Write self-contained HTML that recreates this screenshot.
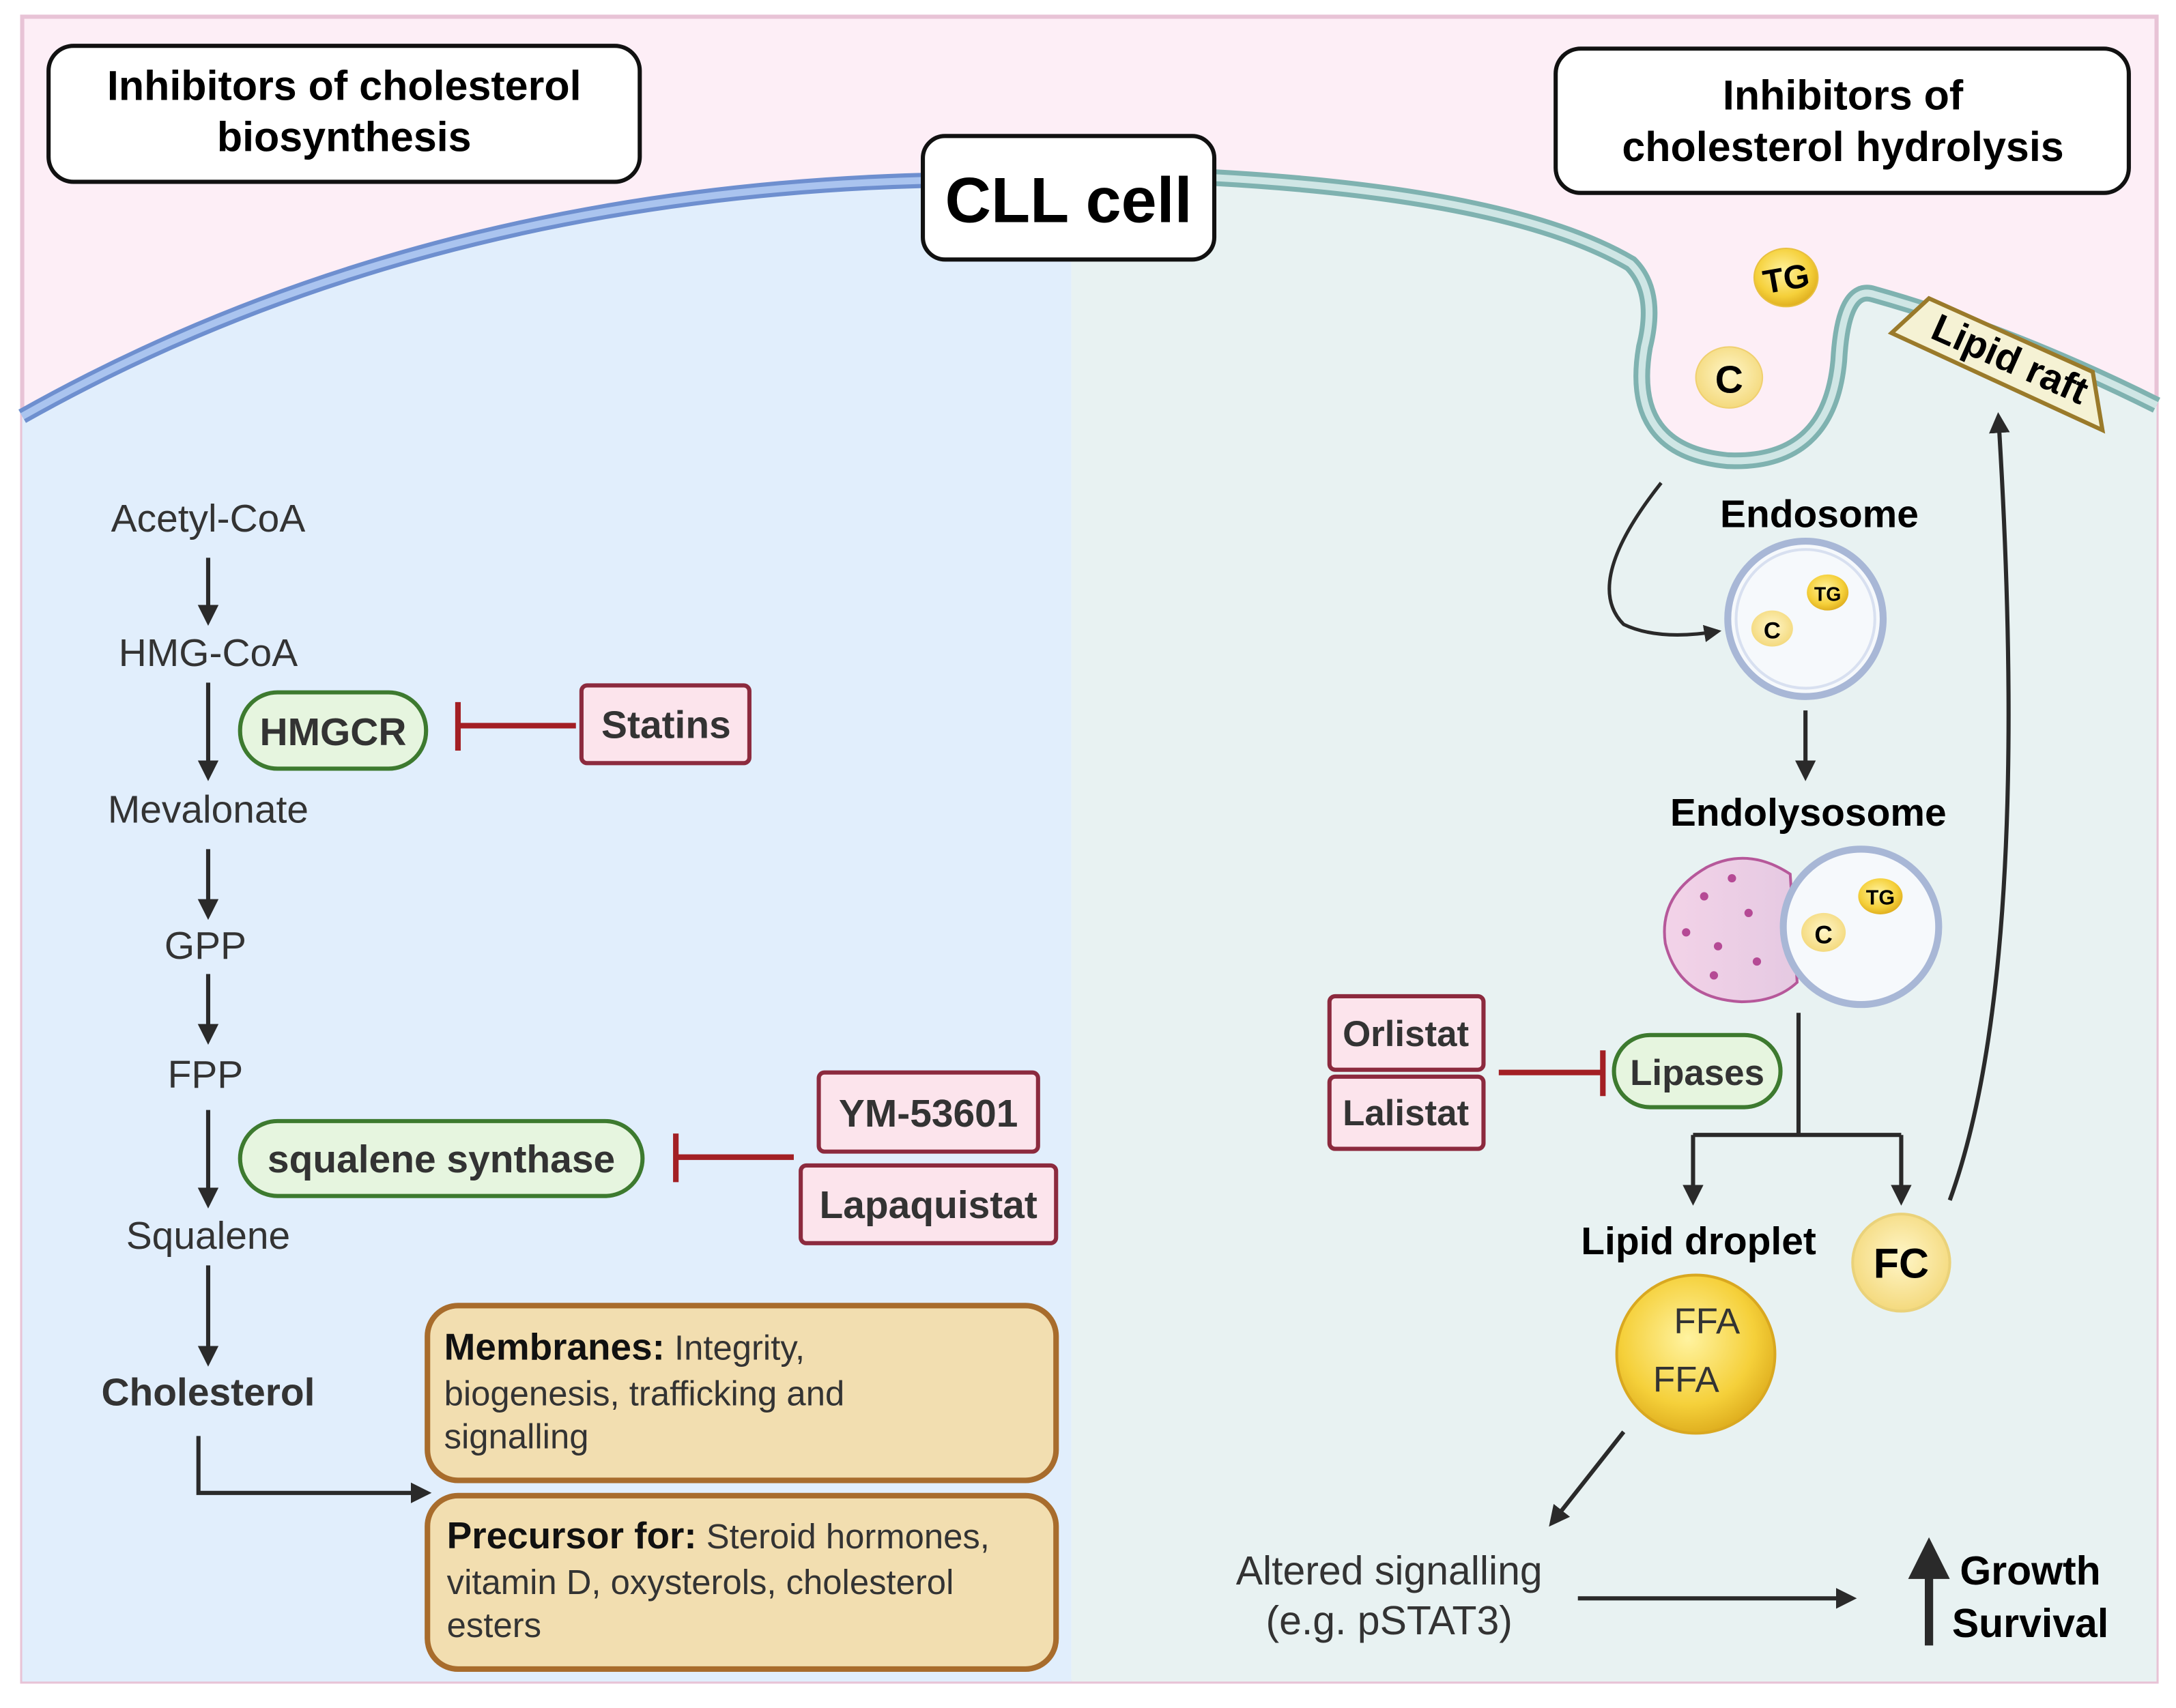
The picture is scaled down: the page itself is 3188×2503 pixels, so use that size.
<!DOCTYPE html>
<html><head><meta charset="utf-8"><style>html,body{margin:0;padding:0;background:#fff}svg{display:block}text{font-family:"Liberation Sans",Arial,sans-serif}</style></head><body>
<svg width="3188" height="2503" viewBox="0 0 1568 1231" xmlns="http://www.w3.org/2000/svg">
<defs>
<marker id="ah" viewBox="0 0 10 10" refX="8" refY="5" markerWidth="5" markerHeight="5" orient="auto"><path d="M0,0 L10,5 L0,10 z" fill="#2a2a2a"/></marker>
<radialGradient id="yg" cx="0.45" cy="0.4" r="0.6"><stop offset="0" stop-color="#fff3a0"/><stop offset="0.7" stop-color="#f5d03a"/><stop offset="1" stop-color="#e0b020"/></radialGradient>
<radialGradient id="yl" cx="0.5" cy="0.45" r="0.6"><stop offset="0" stop-color="#fff6c8"/><stop offset="1" stop-color="#f3d777"/></radialGradient>
<linearGradient id="pk" x1="0" x2="1"><stop offset="0" stop-color="#f3d3e8"/><stop offset="1" stop-color="#e5c9e2"/></linearGradient>
</defs>
<rect x="0" y="0" width="1568" height="1231" fill="#fff"/>
<rect x="16" y="12" width="1538" height="1200" fill="#fdeef6" stroke="#e8c3d6" stroke-width="3"/>
<!-- left cell -->
<path d="M16,300 Q300,140 665,130 L772,128 L772,1212 L16,1212 Z" fill="#e1eefc"/>
<path d="M16,300 Q300,140 665,130" fill="none" stroke="#6e8fcf" stroke-width="11"/>
<path d="M16,300 Q300,140 665,130" fill="none" stroke="#aac4ef" stroke-width="5"/>
<!-- right cell -->
<path d="M772,128 L875,128 Q1090,140 1175,190 Q1195,210 1185,250 Q1172,325 1245,332 Q1318,335 1325,260 Q1328,205 1350,212 Q1450,240 1554,292 L1554,1212 L772,1212 Z" fill="#e8f2f2"/>
<path d="M875,128 Q1090,140 1175,190 Q1195,210 1185,250 Q1172,325 1245,332 Q1318,335 1325,260 Q1328,205 1350,212 Q1450,240 1554,292" fill="none" stroke="#7fb2b0" stroke-width="12"/>
<path d="M875,128 Q1090,140 1175,190 Q1195,210 1185,250 Q1172,325 1245,332 Q1318,335 1325,260 Q1328,205 1350,212 Q1450,240 1554,292" fill="none" stroke="#cfe6e5" stroke-width="5"/>
<!-- title boxes -->
<rect x="35" y="33" width="426" height="98" rx="18" fill="#fff" stroke="#111" stroke-width="3"/>
<text x="248" y="72" font-size="30" font-weight="bold" text-anchor="middle">Inhibitors of cholesterol</text>
<text x="248" y="109" font-size="30" font-weight="bold" text-anchor="middle">biosynthesis</text>
<rect x="665" y="98" width="210" height="89" rx="16" fill="#fff" stroke="#111" stroke-width="3"/>
<text x="770" y="160" font-size="46" font-weight="bold" text-anchor="middle">CLL cell</text>
<rect x="1121" y="35" width="413" height="104" rx="18" fill="#fff" stroke="#111" stroke-width="3"/>
<text x="1328" y="79" font-size="30" font-weight="bold" text-anchor="middle">Inhibitors of</text>
<text x="1328" y="116" font-size="30" font-weight="bold" text-anchor="middle">cholesterol hydrolysis</text>
<!-- pathway -->
<g font-size="28" fill="#333" text-anchor="middle">
<text x="150" y="383">Acetyl-CoA</text>
<text x="150" y="480">HMG-CoA</text>
<text x="150" y="593">Mevalonate</text>
<text x="148" y="691">GPP</text>
<text x="148" y="784">FPP</text>
<text x="150" y="900">Squalene</text>
<text x="150" y="1013" font-weight="bold">Cholesterol</text>
</g>
<g stroke="#2a2a2a" stroke-width="3" marker-end="url(#ah)">
<line x1="150" y1="402" x2="150" y2="448"/>
<line x1="150" y1="492" x2="150" y2="560"/>
<line x1="150" y1="612" x2="150" y2="660"/>
<line x1="150" y1="702" x2="150" y2="750"/>
<line x1="150" y1="800" x2="150" y2="868"/>
<line x1="150" y1="912" x2="150" y2="982"/>
<polyline points="143,1035 143,1076 308,1076" fill="none"/>
</g>
<rect x="173" y="499" width="134" height="55" rx="27" fill="#e6f5df" stroke="#3d7a2f" stroke-width="3"/>
<text x="240" y="537" font-size="28" font-weight="bold" text-anchor="middle" fill="#333">HMGCR</text>
<g stroke="#a31f24" stroke-width="4"><line x1="415" y1="523" x2="330" y2="523"/><line x1="330" y1="506" x2="330" y2="541"/></g>
<rect x="419" y="494" width="121" height="56" rx="4" fill="#fce4ec" stroke="#8c2a3e" stroke-width="3"/>
<text x="480" y="532" font-size="28" font-weight="bold" text-anchor="middle" fill="#333">Statins</text>
<rect x="173" y="808" width="290" height="54" rx="27" fill="#e6f5df" stroke="#3d7a2f" stroke-width="3"/>
<text x="318" y="845" font-size="28" font-weight="bold" text-anchor="middle" fill="#333">squalene synthase</text>
<g stroke="#a31f24" stroke-width="4"><line x1="572" y1="834" x2="487" y2="834"/><line x1="487" y1="817" x2="487" y2="852"/></g>
<rect x="590" y="773" width="158" height="57" rx="4" fill="#fce4ec" stroke="#8c2a3e" stroke-width="3"/>
<text x="669" y="812" font-size="28" font-weight="bold" text-anchor="middle" fill="#333">YM-53601</text>
<rect x="577" y="840" width="184" height="56" rx="4" fill="#fce4ec" stroke="#8c2a3e" stroke-width="3"/>
<text x="669" y="878" font-size="28" font-weight="bold" text-anchor="middle" fill="#333">Lapaquistat</text>
<rect x="308" y="941" width="453" height="126" rx="22" fill="#f2deb0" stroke="#a86c2c" stroke-width="4"/>
<g font-size="25" fill="#333"><text x="320" y="980"><tspan font-weight="bold" font-size="27" fill="#111">Membranes:</tspan> Integrity,</text>
<text x="320" y="1013">biogenesis, trafficking and</text><text x="320" y="1044">signalling</text></g>
<rect x="308" y="1078" width="453" height="125" rx="22" fill="#f2deb0" stroke="#a86c2c" stroke-width="4"/>
<g font-size="25" fill="#333"><text x="322" y="1116"><tspan font-weight="bold" font-size="27" fill="#111">Precursor for:</tspan> Steroid hormones,</text>
<text x="322" y="1149">vitamin D, oxysterols, cholesterol</text><text x="322" y="1180">esters</text></g>
<!-- right side -->
<ellipse cx="1287" cy="200" rx="23" ry="21" fill="url(#yg)" stroke="#e8c040"/>
<text x="1287" y="209" font-size="24" font-weight="bold" text-anchor="middle" transform="rotate(-10 1287 200)">TG</text>
<ellipse cx="1246" cy="272" rx="24" ry="22" fill="url(#yl)" stroke="#f0d070"/>
<text x="1246" y="283" font-size="28" font-weight="bold" text-anchor="middle">C</text>
<polygon points="1363,240 1390,215 1508,268 1515,310" fill="#f5f2d4" stroke="#9a7a2a" stroke-width="3"/>
<text x="1447" y="268" font-size="28" font-weight="bold" text-anchor="middle" transform="rotate(24 1447 262)">Lipid raft</text>
<text x="1311" y="380" font-size="28" font-weight="bold" text-anchor="middle">Endosome</text>
<path d="M1197,348 Q1140,420 1170,450 Q1195,462 1238,455" fill="none" stroke="#2a2a2a" stroke-width="2.5" marker-end="url(#ah)"/>
<circle cx="1301" cy="446" r="56" fill="#f6f9fc" stroke="#a8b7d6" stroke-width="5"/>
<circle cx="1301" cy="446" r="50" fill="none" stroke="#d8e0f0" stroke-width="2"/>
<ellipse cx="1277" cy="453" rx="15" ry="13" fill="url(#yl)"/><text x="1277" y="460" font-size="17" font-weight="bold" text-anchor="middle">C</text>
<ellipse cx="1317" cy="427" rx="15" ry="13" fill="url(#yg)"/><text x="1317" y="433" font-size="14" font-weight="bold" text-anchor="middle">TG</text>
<line x1="1301" y1="512" x2="1301" y2="560" stroke="#2a2a2a" stroke-width="3" marker-end="url(#ah)"/>
<text x="1303" y="595" font-size="28" font-weight="bold" text-anchor="middle">Endolysosome</text>
<path d="M1290,630 Q1260,610 1230,625 Q1195,645 1200,680 Q1210,720 1255,722 Q1280,722 1295,708 Z" fill="url(#pk)" stroke="#b6589a" stroke-width="2"/>
<g fill="#b54a95"><circle cx="1228" cy="646" r="3"/><circle cx="1248" cy="633" r="3"/><circle cx="1215" cy="672" r="3"/><circle cx="1238" cy="682" r="3"/><circle cx="1260" cy="658" r="3"/><circle cx="1266" cy="693" r="3"/><circle cx="1235" cy="703" r="3"/></g>
<circle cx="1341" cy="668" r="56" fill="#f6f9fc" stroke="#a8b7d6" stroke-width="5"/>
<ellipse cx="1314" cy="672" rx="16" ry="14" fill="url(#yl)"/><text x="1314" y="680" font-size="18" font-weight="bold" text-anchor="middle">C</text>
<ellipse cx="1355" cy="646" rx="16" ry="13" fill="url(#yg)"/><text x="1355" y="652" font-size="15" font-weight="bold" text-anchor="middle">TG</text>
<g stroke="#2a2a2a" stroke-width="3" fill="none"><polyline points="1296,730 1296,818"/><polyline points="1220,818 1370,818"/>
<line x1="1220" y1="818" x2="1220" y2="866" marker-end="url(#ah)"/><line x1="1370" y1="818" x2="1370" y2="866" marker-end="url(#ah)"/></g>
<rect x="958" y="718" width="111" height="53" rx="4" fill="#fce4ec" stroke="#8c2a3e" stroke-width="3"/>
<text x="1013" y="754" font-size="26" font-weight="bold" text-anchor="middle" fill="#333">Orlistat</text>
<rect x="958" y="776" width="111" height="52" rx="4" fill="#fce4ec" stroke="#8c2a3e" stroke-width="3"/>
<text x="1013" y="811" font-size="26" font-weight="bold" text-anchor="middle" fill="#333">Lalistat</text>
<g stroke="#a31f24" stroke-width="4"><line x1="1080" y1="773" x2="1155" y2="773"/><line x1="1155" y1="757" x2="1155" y2="790"/></g>
<rect x="1163" y="746" width="120" height="52" rx="26" fill="#e6f5df" stroke="#3d7a2f" stroke-width="3"/>
<text x="1223" y="782" font-size="26" font-weight="bold" text-anchor="middle" fill="#333">Lipases</text>
<text x="1224" y="904" font-size="28" font-weight="bold" text-anchor="middle">Lipid droplet</text>
<circle cx="1222" cy="976" r="57" fill="url(#yg)" stroke="#d9a820" stroke-width="2"/>
<text x="1230" y="961" font-size="26" fill="#333" text-anchor="middle">FFA</text>
<text x="1215" y="1003" font-size="26" fill="#333" text-anchor="middle">FFA</text>
<circle cx="1370" cy="910" r="35" fill="url(#yl)" stroke="#ead27a" stroke-width="2"/>
<text x="1370" y="921" font-size="30" font-weight="bold" text-anchor="middle">FC</text>
<path d="M1405,865 Q1465,700 1440,300" fill="none" stroke="#2a2a2a" stroke-width="3" marker-end="url(#ah)"/>
<line x1="1170" y1="1032" x2="1118" y2="1098" stroke="#2a2a2a" stroke-width="3" marker-end="url(#ah)"/>
<text x="1001" y="1142" font-size="29" fill="#333" text-anchor="middle">Altered signalling</text>
<text x="1001" y="1178" font-size="29" fill="#333" text-anchor="middle">(e.g. pSTAT3)</text>
<line x1="1137" y1="1152" x2="1335" y2="1152" stroke="#2a2a2a" stroke-width="3" marker-end="url(#ah)"/>
<line x1="1390" y1="1186" x2="1390" y2="1114" stroke="#2a2a2a" stroke-width="6" marker-end="url(#ah)"/>
<text x="1463" y="1142" font-size="29" font-weight="bold" text-anchor="middle">Growth</text>
<text x="1463" y="1180" font-size="29" font-weight="bold" text-anchor="middle">Survival</text>
</svg>
</body></html>
